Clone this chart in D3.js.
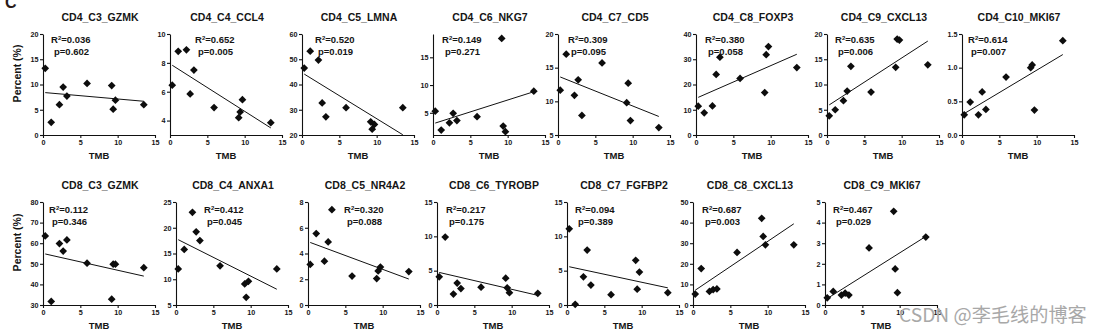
<!DOCTYPE html>
<html>
<head>
<meta charset="utf-8">
<script src="https://cdn.jsdelivr.net/npm/d3@7"></script>
<style>
  html, body { margin: 0; padding: 0; background: #fff; }
  svg { display: block; }
  text { font-family: "Liberation Sans", Arial, sans-serif; font-weight: bold; fill: #151515; }
</style>
</head>
<body>
<svg id="chart" width="1105" height="335"></svg>
<script>
// ---------------- DATA ----------------
const tmb = [0.3, 1.1, 2.2, 2.7, 3.2, 5.9, 9.2, 9.4, 9.7, 13.5];

const panelNames = [
  "CD4_C3_GZMK", "CD4_C4_CCL4", "CD4_C5_LMNA", "CD4_C6_NKG7",
  "CD4_C7_CD5", "CD4_C8_FOXP3", "CD4_C9_CXCL13", "CD4_C10_MKI67",
  "CD8_C3_GZMK", "CD8_C4_ANXA1", "CD8_C5_NR4A2", "CD8_C6_TYROBP",
  "CD8_C7_FGFBP2", "CD8_C8_CXCL13", "CD8_C9_MKI67"
];

const cd4_c3  = [13.2, 2.5, 6.0, 9.5, 7.7, 10.2, 9.8, 5.1, 6.9, 6.0];
const cd4_c4  = [6.45, 8.8, 8.9, 5.85, 7.5, 4.9, 4.2, 4.6, 5.45, 3.85];
const cd4_c5  = [46.5, 53.2, 49.7, 32.7, 27.2, 30.8, 25.2, 22.3, 24.2, 30.8];
const cd4_c6  = [5.3, 1.9, 3.2, 4.9, 3.6, 4.3, 18.4, 2.6, 1.6, 8.9];
const cd4_c7  = [11.65, 17.0, 10.9, 13.2, 7.9, 15.7, 9.8, 12.7, 7.15, 6.1];
const cd4_c8  = [11.4, 8.8, 11.5, 24.0, 30.8, 22.4, 16.8, 31.8, 35.0, 26.7];
const cd4_c9  = [3.8, 5.0, 6.8, 8.7, 13.6, 8.5, 13.4, 19.0, 18.8, 13.9];
const cd4_c10 = [0.3, 0.49, 0.3, 0.64, 0.38, 0.86, 1.0, 1.04, 0.37, 1.4];
const cd8_c3  = [63.5, 31.7, 59.8, 56.2, 61.6, 50.3, 32.8, 49.8, 49.8, 48.1];
const cd8_c4  = [12.0, 15.8, 23.0, 19.2, 17.5, 12.6, 9.1, 6.5, 9.6, 12.0];
const cd8_c5  = [3.15, 5.55, 3.4, 4.9, 7.4, 2.25, 2.05, 2.65, 2.95, 2.6];
const cd8_c6  = [4.1, 9.9, 1.6, 3.2, 2.4, 2.6, 3.9, 2.5, 1.8, 1.7];
const cd8_c7  = [11.1, 0.1, 4.1, 8.0, 2.9, 1.5, 6.5, 2.3, 4.8, 1.8];
const cd8_c8  = [5.3, 17.7, 6.6, 7.5, 7.8, 25.5, 42.1, 33.3, 29.2, 29.2];
const cd8_c9  = [0.35, 0.66, 0.48, 0.58, 0.48, 2.77, 4.55, 1.75, 0.6, 3.3];

const panelValues = [cd4_c3, cd4_c4, cd4_c5, cd4_c6, cd4_c7, cd4_c8, cd4_c9, cd4_c10,
                     cd8_c3, cd8_c4, cd8_c5, cd8_c6, cd8_c7, cd8_c8, cd8_c9];

const r2Labels = ["0.036", "0.652", "0.520", "0.149", "0.309", "0.380", "0.635", "0.614",
                  "0.112", "0.412", "0.320", "0.217", "0.094", "0.687", "0.467"];
const pLabels  = ["0.602", "0.005", "0.019", "0.271", "0.095", "0.058", "0.006", "0.007",
                  "0.346", "0.045", "0.088", "0.175", "0.389", "0.003", "0.029"];

const yDomains = [[0, 20], [3, 10], [20, 60], [1, 19.2], [5, 20], [0, 40], [0, 20], [0, 1.5],
                  [30, 80], [5, 25], [0, 8], [0, 15], [0, 15], [0, 50], [0, 5]];
const yTicks = [
  [0, 5, 10, 15, 20], [4, 6, 8, 10], [20, 30, 40, 50, 60], [5, 10, 15],
  [5, 10, 15, 20], [0, 10, 20, 30, 40], [0, 5, 10, 15, 20], [0, 0.5, 1.0, 1.5],
  [30, 40, 50, 60, 70, 80], [5, 10, 15, 20, 25], [0, 2, 4, 6, 8], [0, 5, 10, 15],
  [0, 5, 10, 15], [0, 10, 20, 30, 40, 50], [0, 1, 2, 3, 4, 5]
];
const xDomain = [0, 15];
const xTicks = [0, 5, 10, 15];
const xLabel = "TMB";
const yLabel = "Percent (%)";

// ---------------- LAYOUT ----------------
const rows = [
  { top: 34, bottom: 135, lefts: [43, 170, 302, 433, 558, 696, 827, 962], statDx: [8, 25, 13, 9, 10, 9, 8, 6] },
  { top: 202, bottom: 305, lefts: [43, 176, 308, 437, 567, 693, 825], statDx: [6, 28, 36, 9, 8, 9, 8] }
];
const plotW = 112;

const svg = d3.select("#chart");

// panel letter (cut at top)
svg.append("text").attr("x", 5).attr("y", 8)
  .style("font-size", "16px").style("fill", "#2a1a18").text("C");

let idx = 0;
rows.forEach((row, ri) => {
  row.lefts.forEach((left, ci) => {
    const i = idx++;
    const vals = panelValues[i];
    const x = d3.scaleLinear().domain(xDomain).range([left, left + plotW]);
    const y = d3.scaleLinear().domain(yDomains[i]).range([row.bottom, row.top]);
    const g = svg.append("g");

    // title
    g.append("text").attr("x", left + plotW / 2 + 1).attr("y", row.top - 13)
      .attr("text-anchor", "middle").style("font-size", "10.5px").text(panelNames[i]);

    // axes
    const fmt = yDomains[i][1] <= 2 ? d3.format(".1f") : d3.format("d");
    const yAxis = d3.axisLeft(y).tickValues(yTicks[i]).tickFormat(fmt).tickSizeOuter(0).tickSizeInner(3).tickPadding(1.5);
    const xAxis = d3.axisBottom(x).tickValues(xTicks).tickFormat(d3.format("d")).tickSizeOuter(0).tickSizeInner(3).tickPadding(2);
    const ya = g.append("g").attr("transform", `translate(${left},0)`).call(yAxis);
    const xa = g.append("g").attr("transform", `translate(0,${row.bottom})`).call(xAxis);
    [ya, xa].forEach(a => {
      a.select(".domain").attr("stroke", "#111").attr("stroke-width", 1.1);
      a.selectAll(".tick line").attr("stroke", "#111").attr("stroke-width", 1.1);
      a.selectAll(".tick text").style("font-size", "7.2px").style("font-family", "Liberation Sans, Arial, sans-serif")
        .style("font-weight", "bold").attr("fill", "#151515");
    });

    // x label
    g.append("text").attr("x", left + plotW / 2).attr("y", row.bottom + 23.5)
      .attr("text-anchor", "middle").style("font-size", "9.5px").text(xLabel);

    // y label (first column only)
    if (ci === 0) {
      const cy = (row.top + row.bottom) / 2 - 11;
      g.append("text").attr("transform", `translate(21,${cy}) rotate(-90)`)
        .attr("text-anchor", "middle").style("font-size", "10.5px").text(yLabel);
    }

    // regression line (least squares from data)
    const mx = d3.mean(tmb), my = d3.mean(vals);
    const sxy = d3.sum(tmb, (t, k) => (t - mx) * (vals[k] - my));
    const sxx = d3.sum(tmb, t => (t - mx) * (t - mx));
    const slope = sxy / sxx, icpt = my - slope * mx;
    const ext = d3.extent(tmb);
    g.append("line")
      .attr("x1", x(ext[0])).attr("y1", y(icpt + slope * ext[0]))
      .attr("x2", x(ext[1])).attr("y2", y(icpt + slope * ext[1]))
      .attr("stroke", "#111").attr("stroke-width", 1);

    // points (diamonds)
    const sym = d3.symbol(d3.symbolSquare, 30)();
    g.selectAll("path.pt").data(vals).join("path").attr("class", "pt")
      .attr("d", sym)
      .attr("transform", (d, k) => `translate(${x(tmb[k])},${y(d)}) rotate(45)`)
      .attr("fill", "#0d0d0d");

    // stats text
    const sx = left + row.statDx[ci];
    const r = g.append("text").attr("x", sx).attr("y", row.top + (ri === 0 ? 9 : 11)).style("font-size", "9.5px");
    r.append("tspan").text("R");
    r.append("tspan").attr("dy", -3.5).style("font-size", "6px").text("2");
    r.append("tspan").attr("dy", 3.5).text("=" + r2Labels[i]);
    g.append("text").attr("x", sx + 3).attr("y", row.top + (ri === 0 ? 21 : 22.5))
      .style("font-size", "9.5px").text("p=" + pLabels[i]);
  });
});

// watermark
svg.append("text").attr("x", 899).attr("y", 322)
  .style("font-family", "'Noto Sans CJK SC', 'Noto Sans', sans-serif").style("font-weight", "normal")
  .style("font-size", "19.2px").style("fill", "#a8a8a8").text("CSDN @李毛线的博客");
</script>
</body>
</html>
